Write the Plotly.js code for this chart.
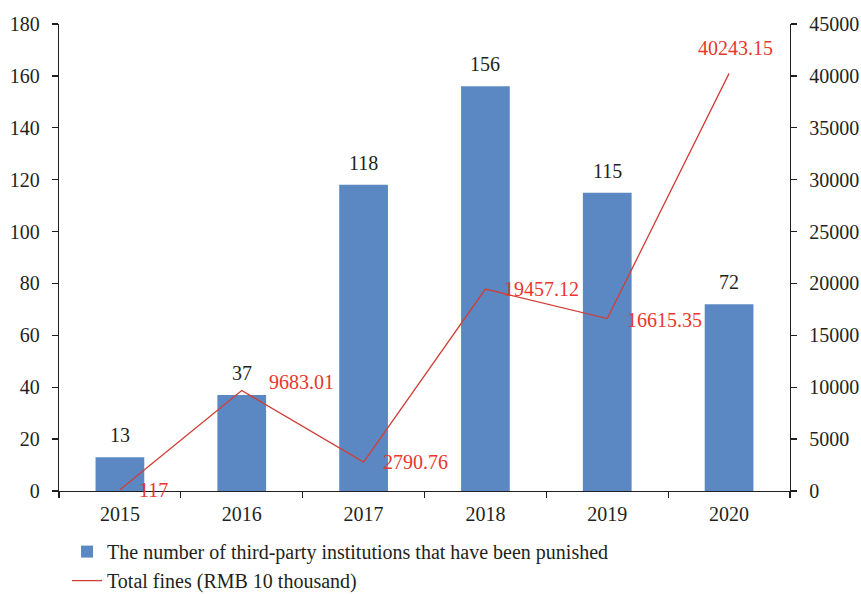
<!DOCTYPE html>
<html>
<head>
<meta charset="utf-8">
<script src="https://cdn.plot.ly/plotly-3.0.1.min.js"></script>
<style>html,body{margin:0;padding:0;background:#fff;}#chart{width:861px;height:594px;}</style>
</head>
<body>
<div id="chart"></div>
<script>
var years = ['2015', '2016', '2017', '2018', '2019', '2020'];
var institutions = [13, 37, 118, 156, 115, 72];
var fines = [117, 9683.01, 2790.76, 19457.12, 16615.35, 40243.15];
var fineLabels = ['117', '9683.01', '2790.76', '19457.12', '16615.35', '40243.15'];
var barName = 'The number of third-party institutions that have been punished';
var lineName = 'Total fines (RMB 10 thousand)';

// label placement (styling only)
var fineLabelStyle = [
  {xanchor: 'left', xshift: 17, yshift: 0},
  {xanchor: 'left', xshift: 25, yshift: 9},
  {xanchor: 'left', xshift: 17, yshift: 0},
  {xanchor: 'left', xshift: 17, yshift: 0},
  {xanchor: 'left', xshift: 18, yshift: -1},
  {xanchor: 'center', xshift: 6, yshift: 25}
];

var FONT = 'Liberation Serif, Times New Roman, serif';
var FS = 20;
var BAR = '#5b88c3';
var LINE = '#cf3f38';
var RED = '#e8372c';
var INK = '#231f20';

var traces = [
  {type: 'bar', x: years, y: institutions, name: barName, marker: {color: BAR}, yaxis: 'y', hoverinfo: 'skip'},
  {type: 'scatter', mode: 'lines', x: years, y: fines, name: lineName, line: {color: LINE, width: 1.3}, yaxis: 'y2', hoverinfo: 'skip'}
];

var annotations = [];
years.forEach(function (yr, i) {
  annotations.push({x: i, y: institutions[i], xref: 'x', yref: 'y', text: String(institutions[i]),
    showarrow: false, yanchor: 'bottom', yshift: 9, font: {family: FONT, size: FS, color: INK}});
  var s = fineLabelStyle[i];
  annotations.push({x: i, y: fines[i], xref: 'x', yref: 'y2', text: fineLabels[i],
    showarrow: false, xanchor: s.xanchor, yanchor: 'middle', xshift: s.xshift, yshift: s.yshift,
    font: {family: FONT, size: FS, color: RED}});
});

var layout = {
  width: 861, height: 594,
  margin: {l: 59, r: 71, t: 24, b: 103, autoexpand: false},
  paper_bgcolor: '#fff', plot_bgcolor: '#fff',
  font: {family: FONT, size: FS, color: INK},
  bargap: 0.6,
  showlegend: true,
  legend: {x: 0.011, xanchor: 'left', y: -0.088, yanchor: 'top', orientation: 'v',
    font: {family: FONT, size: 20, color: INK}, tracegroupgap: 0, bgcolor: 'rgba(0,0,0,0)'},
  xaxis: {type: 'category', range: [-0.5, 5.5], autorange: false, showline: true, linecolor: INK, linewidth: 1.3,
    ticks: 'outside', tickson: 'boundaries', ticklen: 6, tickcolor: INK, tickwidth: 1.3,
    showgrid: false, zeroline: false, ticklabelstandoff: 5, tickangle: 0, tickfont: {family: FONT, size: 20, color: INK}},
  yaxis: {range: [0, 180], autorange: false, dtick: 20, showline: true, linecolor: INK, linewidth: 1.3,
    ticks: 'outside', ticklen: 6, tickcolor: INK, tickwidth: 1.3, showgrid: false, zeroline: false,
    ticklabelstandoff: 8, tickfont: {family: FONT, size: 20, color: INK}},
  yaxis2: {range: [0, 45000], autorange: false, dtick: 5000, overlaying: 'y', side: 'right', showline: true,
    linecolor: INK, linewidth: 1.3, ticks: 'outside', ticklen: 6, tickcolor: INK, tickwidth: 1.3,
    showgrid: false, zeroline: false, ticklabelstandoff: 8, tickformat: 'd',
    tickfont: {family: FONT, size: 20, color: INK}},
  annotations: annotations
};

Plotly.newPlot('chart', traces, layout, {displayModeBar: false, staticPlot: true});
</script>
</body>
</html>
